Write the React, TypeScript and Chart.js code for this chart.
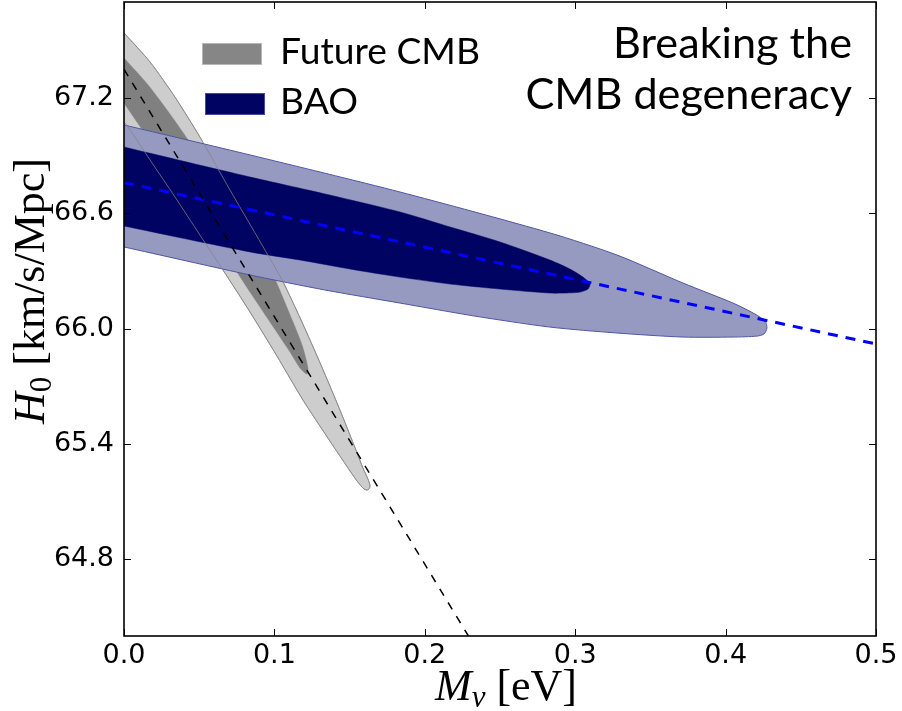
import React, { useEffect, useRef } from "react";
import { Chart, registerables } from "chart.js";

Chart.register(...registerables);

// ---------- data (Mν [eV], H0 [km/s/Mpc]) ----------
const xTicks = [0.0, 0.1, 0.2, 0.3, 0.4, 0.5];
const yTicks = [64.8, 65.4, 66.0, 66.6, 67.2];
const xMin = 0;
const xMax = 0.5;
const yMin = 64.4;
const yMax = 67.7;

const legendLabels = ["Future CMB", "BAO"];
const noteLines = ["Breaking the", "CMB degeneracy"];

// Future CMB 95% contour (outline)
const cmbOuter: [number, number][] = [
  [0.0, 67.539], [0.0173, 67.388], [0.0339, 67.205], [0.0505, 66.997],
  [0.0705, 66.721], [0.0918, 66.435], [0.1051, 66.253], [0.1177, 66.045],
  [0.131, 65.81], [0.1436, 65.576], [0.1529, 65.394], [0.1589, 65.274],
  [0.1622, 65.217], [0.1636, 65.18], [0.1622, 65.16], [0.1596, 65.165],
  [0.1549, 65.207], [0.1476, 65.29], [0.1356, 65.43], [0.119, 65.628],
  [0.1017, 65.857], [0.0838, 66.086], [0.0658, 66.305], [0.0505, 66.487],
  [0.0339, 66.685], [0.0173, 66.878], [0.0027, 67.049], [0.0, 67.075],
];

// Future CMB 68% contour
const cmbInner: [number, number][] = [
  [0.0, 67.408], [0.016, 67.268], [0.031, 67.112], [0.044, 66.966],
  [0.0605, 66.763], [0.0805, 66.524], [0.0984, 66.289], [0.1104, 66.071],
  [0.1184, 65.914], [0.1223, 65.795], [0.1217, 65.763], [0.117, 65.795],
  [0.1104, 65.878], [0.0971, 66.034], [0.0838, 66.19], [0.0751, 66.295],
  [0.0572, 66.513], [0.0372, 66.753], [0.0173, 66.976], [0.0, 67.174],
];

// BAO 95% contour
const baoOuter: [number, number][] = [
  [0.0, 67.06], [0.0838, 66.904], [0.1835, 66.711], [0.2832, 66.498],
  [0.3278, 66.383], [0.3717, 66.237], [0.4049, 66.133], [0.4195, 66.076],
  [0.4262, 66.039], [0.4275, 66.003], [0.4255, 65.972], [0.4209, 65.961],
  [0.4049, 65.956], [0.3717, 65.956], [0.3278, 65.977], [0.2832, 66.008],
  [0.2334, 66.065], [0.1835, 66.133], [0.1336, 66.201], [0.0838, 66.279],
  [0.0, 66.425],
];

// BAO 68% contour
const baoInner: [number, number][] = [
  [0.0, 66.945], [0.0838, 66.789], [0.1336, 66.701], [0.1835, 66.607],
  [0.2168, 66.529], [0.25, 66.451], [0.2832, 66.357], [0.2965, 66.31],
  [0.3052, 66.268], [0.3098, 66.232], [0.3085, 66.206], [0.3032, 66.19],
  [0.2932, 66.185], [0.2832, 66.185], [0.25, 66.206], [0.2168, 66.232],
  [0.1835, 66.268], [0.1503, 66.31], [0.117, 66.357], [0.0838, 66.399],
  [0.0, 66.534],
];

// degeneracy directions
const cmbDegeneracy: [number, number][] = [[0.0, 67.35], [0.229, 64.4]];
const baoDegeneracy: [number, number][] = [[0.0, 66.76], [0.5, 65.92]];

// ---------- helpers ----------
const pts = (a: [number, number][]) => a.map(([x, y]) => ({ x, y }));

const SERIF = '"Liberation Serif", "DejaVu Serif", serif';
const SANS_TEXT = 'Lato, "Open Sans", sans-serif';

type Piece = { t: string; font: string; dy: number };

function drawPieces(ctx: CanvasRenderingContext2D, pieces: Piece[], cx: number, baseY: number) {
  let total = 0;
  const widths = pieces.map((p) => {
    ctx.font = p.font;
    const w = ctx.measureText(p.t).width;
    total += w;
    return w;
  });
  let x = cx - total / 2;
  ctx.textAlign = "left";
  ctx.textBaseline = "alphabetic";
  pieces.forEach((p, i) => {
    ctx.font = p.font;
    ctx.fillText(p.t, x, baseY + p.dy);
    x += widths[i];
  });
}

function fitSize(ctx: CanvasRenderingContext2D, text: string, family: string, target: number) {
  ctx.font = `100px ${family}`;
  const w = ctx.measureText(text).width;
  return (100 * target) / w;
}

const framePlugin = {
  id: "frameAndText",
  afterDatasetsDraw(chart: any) {
    const ctx: CanvasRenderingContext2D = chart.ctx;
    const { left, right, top, bottom } = chart.chartArea;
    const xs = chart.scales.x;
    const ys = chart.scales.y;
    ctx.save();
    // inward ticks on all four sides
    ctx.strokeStyle = "#000";
    ctx.lineWidth = 1;
    ctx.beginPath();
    const tl = 7;
    xTicks.forEach((v) => {
      const px = Math.round(xs.getPixelForValue(v)) + 0.5;
      ctx.moveTo(px, bottom);
      ctx.lineTo(px, bottom - tl);
      ctx.moveTo(px, top);
      ctx.lineTo(px, top + tl);
    });
    yTicks.forEach((v) => {
      const py = Math.round(ys.getPixelForValue(v)) + 0.5;
      ctx.moveTo(left, py);
      ctx.lineTo(left + tl, py);
      ctx.moveTo(right, py);
      ctx.lineTo(right - tl, py);
    });
    ctx.stroke();
    ctx.lineWidth = 1.6;
    ctx.strokeRect(left, top, right - left, bottom - top);

    // legend
    ctx.fillStyle = "#868686";
    ctx.fillRect(202, 43, 60, 22);
    ctx.strokeStyle = "#b8b8b8";
    ctx.lineWidth = 1;
    ctx.strokeRect(202.5, 43.5, 59, 21);
    ctx.fillStyle = "rgb(0,3,98)";
    ctx.fillRect(205, 93, 60, 22);
    ctx.strokeStyle = "rgb(70,75,160)";
    ctx.strokeRect(205.5, 93.5, 59, 21);

    ctx.fillStyle = "#000";
    ctx.textBaseline = "alphabetic";
    const legSize = fitSize(ctx, legendLabels[0], SANS_TEXT, 200);
    ctx.font = `${legSize}px ${SANS_TEXT}`;
    ctx.textAlign = "left";
    ctx.fillText(legendLabels[0], 280, 64);
    ctx.fillText(legendLabels[1], 280, 114);

    // annotation
    const noteSize = fitSize(ctx, noteLines[0], SANS_TEXT, 239);
    ctx.font = `${noteSize}px ${SANS_TEXT}`;
    ctx.textAlign = "right";
    ctx.fillText(noteLines[0], 852, 58);
    ctx.fillText(noteLines[1], 852, 109);
    ctx.restore();
  },
  afterDraw(chart: any) {
    const ctx: CanvasRenderingContext2D = chart.ctx;
    const { left, right } = chart.chartArea;
    ctx.save();
    ctx.fillStyle = "#000";
    // x title: M_ν [eV]
    drawPieces(
      ctx,
      [
        { t: "M", font: `italic 44px ${SERIF}`, dy: 0 },
        { t: "ν", font: `italic 31px ${SERIF}`, dy: 7 },
        { t: " [eV]", font: `44px ${SERIF}`, dy: 0 },
      ],
      (left + right) / 2 + 6,
      700
    );
    // y title: H_0 [km/s/Mpc]
    ctx.translate(44, 291);
    ctx.rotate(-Math.PI / 2);
    drawPieces(
      ctx,
      [
        { t: "H", font: `italic 44px ${SERIF}`, dy: 0 },
        { t: "0", font: `31px ${SERIF}`, dy: 7 },
        { t: " [km/s/Mpc]", font: `44px ${SERIF}`, dy: 0 },
      ],
      0,
      0
    );
    ctx.restore();
  },
};

export default function App() {
  const ref = useRef<HTMLCanvasElement | null>(null);

  useEffect(() => {
    if (!ref.current) return;
    const tickFont = { family: '"DejaVu Sans", sans-serif', size: 27 };
    const chart = new Chart(ref.current, {
      type: "scatter",
      data: {
        datasets: [
          {
            label: "CMB degeneracy",
            data: pts(cmbDegeneracy),
            showLine: true,
            borderColor: "#000",
            borderWidth: 1.5,
            borderDash: [8, 8],
            pointRadius: 0,
            fill: false,
            order: 0,
          },
          {
            label: "BAO degeneracy",
            data: pts(baoDegeneracy),
            showLine: true,
            borderColor: "#0000ff",
            borderWidth: 3,
            borderDash: [10, 8],
            pointRadius: 0,
            fill: false,
            order: 1,
          },
          {
            label: "Future CMB outline",
            data: pts(cmbOuter),
            showLine: true,
            borderColor: "rgba(130,130,130,0.75)",
            borderWidth: 1,
            pointRadius: 0,
            tension: 0.25,
            fill: false,
            order: 2,
          },
          {
            label: "BAO 68%",
            data: pts(baoInner),
            showLine: true,
            borderColor: "rgb(0,3,98)",
            borderWidth: 0.5,
            backgroundColor: "rgb(0,3,98)",
            pointRadius: 0,
            tension: 0.25,
            fill: "shape",
            order: 3,
          },
          {
            label: "BAO 95%",
            data: pts(baoOuter),
            showLine: true,
            borderColor: "rgb(80,85,160)",
            borderWidth: 1,
            backgroundColor: "rgb(150,154,193)",
            pointRadius: 0,
            tension: 0.25,
            fill: "shape",
            order: 4,
          },
          {
            label: "Future CMB 68%",
            data: pts(cmbInner),
            showLine: true,
            borderColor: "#808080",
            borderWidth: 0.5,
            backgroundColor: "#808080",
            pointRadius: 0,
            tension: 0.25,
            fill: "shape",
            order: 5,
          },
          {
            label: "Future CMB 95%",
            data: pts(cmbOuter),
            showLine: true,
            borderColor: "#a8a8a8",
            borderWidth: 1,
            backgroundColor: "#cdcdcd",
            pointRadius: 0,
            tension: 0.25,
            fill: "shape",
            order: 6,
          },
        ],
      },
      options: {
        animation: false,
        responsive: false,
        devicePixelRatio: 1,
        events: [],
        layout: { padding: { left: 0, right: 26, top: 2, bottom: 0 } },
        plugins: {
          legend: { display: false },
          tooltip: { enabled: false },
          title: { display: false },
        },
        scales: {
          x: {
            type: "linear",
            min: xMin,
            max: xMax,
            grid: { display: false, drawTicks: false },
            border: { display: false },
            ticks: {
              font: tickFont,
              color: "#000",
              padding: 4,
              maxRotation: 0,
              autoSkip: false,
              callback: (v: any) => Number(v).toFixed(1),
            },
            afterBuildTicks: (s: any) => {
              s.ticks = xTicks.map((v) => ({ value: v }));
            },
            afterFit: (s: any) => {
              s.height = 75;
              s.paddingLeft = 0;
              s.paddingRight = 0;
            },
          },
          y: {
            type: "linear",
            min: yMin,
            max: yMax,
            grid: { display: false, drawTicks: false },
            border: { display: false },
            ticks: {
              font: tickFont,
              color: "#000",
              padding: 10,
              autoSkip: false,
              callback: (v: any) => Number(v).toFixed(1),
            },
            afterBuildTicks: (s: any) => {
              s.ticks = yTicks.map((v) => ({ value: v }));
            },
            afterFit: (s: any) => {
              s.width = 124;
              s.paddingTop = 0;
              s.paddingBottom = 0;
            },
          },
        },
      },
      plugins: [framePlugin],
    } as any);
    return () => chart.destroy();
  }, []);

  return (
    <div style={{ position: "absolute", left: 0, top: 0, width: 902, height: 711, background: "#fff" }}>
      <canvas ref={ref} width={902} height={711} style={{ display: "block" }} />
    </div>
  );
}
